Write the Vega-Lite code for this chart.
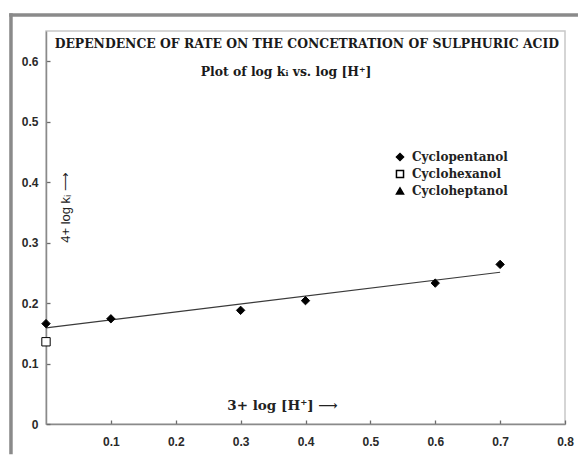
{
  "$schema": "https://vega.github.io/schema/vega-lite/v6.json",
  "width": 519,
  "height": 393,
  "autosize": {"type": "none"},
  "padding": {"left": 46, "top": 31, "right": 14, "bottom": 32},
  "background": "white",
  "config": {
    "view": {"stroke": "#c8c8c8", "strokeWidth": 1.5},
    "axis": {"grid": false}
  },
  "datasets": {
    "points": [
      {"x": 0.0, "y": 0.166, "compound": "Cyclopentanol"},
      {"x": 0.1, "y": 0.174, "compound": "Cyclopentanol"},
      {"x": 0.3, "y": 0.188, "compound": "Cyclopentanol"},
      {"x": 0.4, "y": 0.204, "compound": "Cyclopentanol"},
      {"x": 0.6, "y": 0.233, "compound": "Cyclopentanol"},
      {"x": 0.7, "y": 0.264, "compound": "Cyclopentanol"},
      {"x": 0.0, "y": 0.136, "compound": "Cyclohexanol"}
    ],
    "fit": [
      {"x": 0.0, "y": 0.159},
      {"x": 0.7, "y": 0.251}
    ],
    "titles": [
      {"x": 0.402, "y": 0.629, "label": "DEPENDENCE OF RATE ON THE CONCETRATION OF SULPHURIC ACID"},
      {"x": 0.37, "y": 0.583, "label": "Plot of  log kᵢ vs. log [H⁺]"}
    ]
  },
  "layer": [
    {
      "data": {"values": [{}]},
      "mark": {"type": "rule", "stroke": "#8a8a8a", "strokeWidth": 3.5, "clip": false},
      "encoding": {
        "x": {"datum": -0.054, "type": "quantitative"},
        "y": {"datum": 0.6795, "type": "quantitative"},
        "y2": {"datum": -0.05}
      }
    },
    {
      "data": {"values": [{}]},
      "mark": {"type": "rule", "stroke": "#8a8a8a", "strokeWidth": 3.5, "clip": false},
      "encoding": {
        "y": {"datum": 0.6766, "type": "quantitative"},
        "x": {"datum": -0.0567, "type": "quantitative"},
        "x2": {"datum": 0.82}
      }
    },
    {
      "data": {"name": "fit"},
      "mark": {"type": "line", "color": "#3a3a3a", "strokeWidth": 1.1},
      "encoding": {
        "x": {
          "field": "x", "type": "quantitative",
          "scale": {"domain": [0, 0.8], "nice": false, "zero": false},
          "axis": {
            "values": [0.1, 0.2, 0.3, 0.4, 0.5, 0.6, 0.7, 0.8],
            "format": ".1f",
            "domainColor": "#8a8a8a", "domainWidth": 1.5,
            "tickColor": "#6a6a6a", "tickSize": -4, "tickWidth": 1.3,
            "labelFont": "Liberation Sans", "labelFontSize": 12, "labelFontWeight": "bold",
            "labelColor": "#2a2a2a", "labelPadding": 16, "labelFlush": false,
            "title": "3+ log [H⁺] ⟶",
            "titleFont": "DejaVu Serif", "titleFontSize": 13.5, "titleFontWeight": "bold", "titleColor": "#222",
            "titleX": 236, "titleY": -19, "titleBaseline": "middle", "titleAlign": "center", "titleAnchor": null
          }
        },
        "y": {
          "field": "y", "type": "quantitative",
          "scale": {"domain": [0, 0.65], "nice": false, "zero": false},
          "axis": {
            "values": [0, 0.1, 0.2, 0.3, 0.4, 0.5, 0.6],
            "labelExpr": "datum.value == 0 ? '0' : format(datum.value, '.1f')",
            "domainColor": "#8a8a8a", "domainWidth": 1.5,
            "tickColor": "#6a6a6a", "tickSize": -4, "tickWidth": 1.3,
            "labelFont": "Liberation Sans", "labelFontSize": 12, "labelFontWeight": "bold",
            "labelColor": "#2a2a2a", "labelPadding": 12,
            "title": "4+ log kᵢ ⟶",
            "titleFont": "Liberation Sans", "titleFontSize": 13, "titleFontWeight": "normal", "titleColor": "#222",
            "titleX": 19, "titleY": 176, "titleAngle": -90, "titleBaseline": "middle", "titleAlign": "center", "titleAnchor": null
          }
        }
      }
    },
    {
      "data": {"name": "points"},
      "mark": {"type": "point", "filled": true, "stroke": "black", "strokeWidth": 1, "size": 70, "opacity": 1, "clip": false},
      "encoding": {
        "x": {"field": "x", "type": "quantitative"},
        "y": {"field": "y", "type": "quantitative"},
        "shape": {
          "field": "compound", "type": "nominal",
          "scale": {"domain": ["Cyclopentanol", "Cyclohexanol", "Cycloheptanol"], "range": ["diamond", "square", "triangle-up"]},
          "legend": {
            "title": null, "orient": "none", "legendX": 348, "legendY": 120,
            "labelFont": "DejaVu Serif", "labelFontSize": 12, "labelFontWeight": "bold", "labelColor": "#222",
            "symbolSize": 50, "rowPadding": 3, "labelOffset": 6,
            "encode": {"symbols": {"update": {"stroke": {"value": "black"}, "strokeWidth": {"value": 1}, "opacity": {"value": 1}}}}
          }
        },
        "fill": {
          "field": "compound", "type": "nominal",
          "scale": {"domain": ["Cyclopentanol", "Cyclohexanol", "Cycloheptanol"], "range": ["black", "white", "black"]},
          "legend": {
            "title": null, "orient": "none", "legendX": 348, "legendY": 120,
            "labelFont": "DejaVu Serif", "labelFontSize": 12, "labelFontWeight": "bold", "labelColor": "#222",
            "symbolSize": 50, "rowPadding": 3, "labelOffset": 6,
            "encode": {"symbols": {"update": {"stroke": {"value": "black"}, "strokeWidth": {"value": 1}, "opacity": {"value": 1}}}}
          }
        }
      }
    },
    {
      "data": {"name": "titles"},
      "mark": {"type": "text", "font": "DejaVu Serif", "fontSize": 12.4, "fontWeight": "bold", "color": "#1a1a1a", "baseline": "middle", "align": "center"},
      "encoding": {
        "x": {"field": "x", "type": "quantitative"},
        "y": {"field": "y", "type": "quantitative"},
        "text": {"field": "label"}
      }
    }
  ]
}
